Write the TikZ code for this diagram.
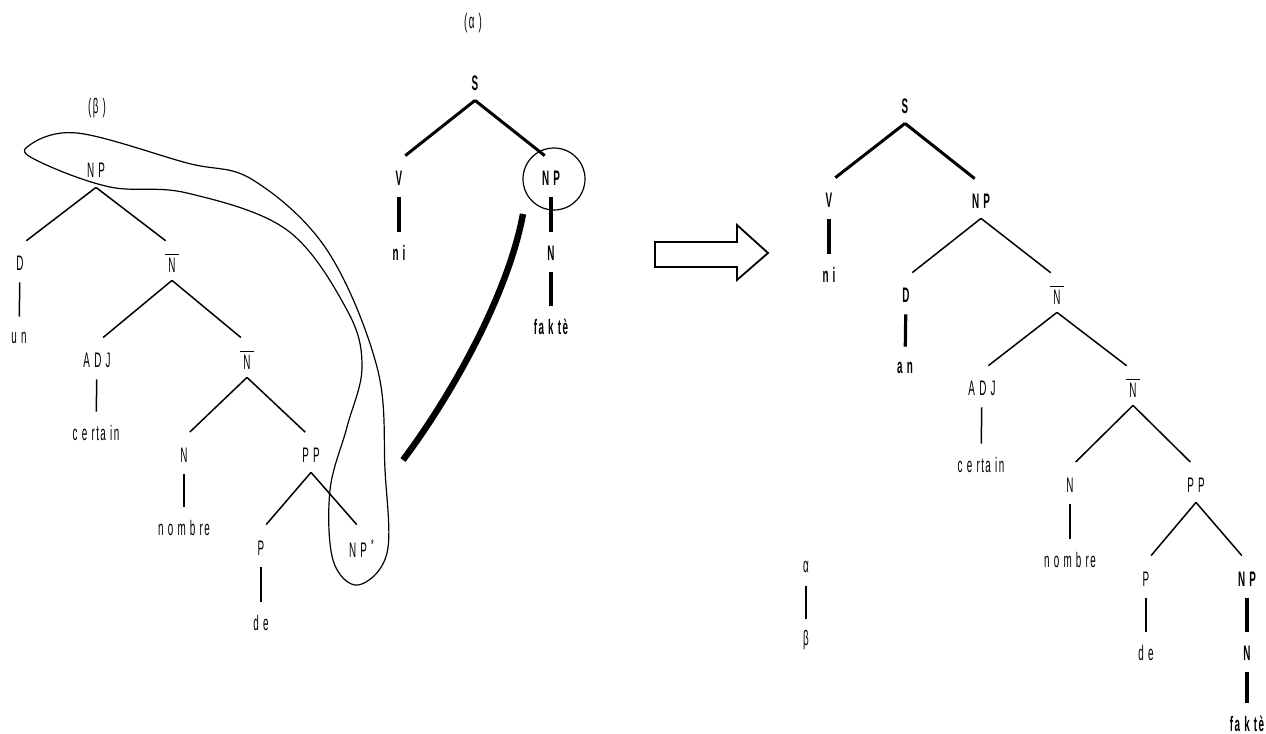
\documentclass[tikz,border=0pt]{standalone}
\usepackage{fontspec}
\usepackage{amsmath}
\setmainfont{Liberation Sans}[FakeStretch=0.47,LetterSpace=7]
\usetikzlibrary{positioning}
\tikzstyle{cat}=
[
	inner sep=0pt
	, minimum height=17pt
	, font=\fontsize{10.5}{12}\selectfont
]
\tikzstyle{bcat}=
[
	cat
	, font=\fontsize{10.5}{12}\selectfont\bfseries
]
\tikzstyle{branch} = [line width=0.75pt, shorten >=4pt]
\tikzstyle{tbranch} = [line width=1.5pt, shorten >=4pt]
\tikzstyle{stem} = [line width=0.75pt, shorten <=1pt, shorten >=2pt]
\tikzstyle{tstem} = [line width=1.6pt, shorten <=1pt, shorten >=2pt]
\newcommand{\nbar}{$\overline{\hbox{\,N\,}}$}

\begin{document}
\begin{tikzpicture}[x=0.5pt,y=-0.5pt]
\useasboundingbox (0,0) rectangle (1266,734);

% tree beta
\node(btitle)[cat] at (97,108) {(β )};
\node(bNP)[cat] at (96,170) {N P};
\node(bD)[cat] at (20,263) {D};
\node(bun)[cat] at (19,338) {u n};
\node(bNb)[cat] at (172,263) {\nbar};
\node(bADJ)[cat] at (97,360) {A D J};
\node(bcert)[cat] at (96,433) {c e rta in};
\node(bNbb)[cat] at (247,360) {\nbar};
\node(bN)[cat] at (184,455) {N};
\node(bnom)[cat] at (184,528) {n o m b re};
\node(bPP)[cat] at (311,455) {P P};
\node(bP)[cat] at (261,548) {P};
\node(bde)[cat] at (261,623) {d e};
\node(bNPs)[cat] at (362,548) {N P \textsuperscript{*}};

\draw[branch](bNP.south)--(bD.north);
\draw[branch](bNP.south)--(bNb.north);
\draw[stem](bD)--(bun);
\draw[branch](bNb.south)--(bADJ.north);
\draw[branch](bNb.south)--(bNbb.north);
\draw[stem](bADJ)--(bcert);
\draw[branch](bNbb.south)--(bN.north);
\draw[branch](bNbb.south)--(bPP.north);
\draw[stem](bN)--(bnom);
\draw[branch](bPP.south)--(bP.north);
\draw[branch](bPP.south)--(bNPs.north);
\draw[stem](bP)--(bde);

% loop round the spine
\draw[line width=0.6pt] plot[smooth cycle, tension=0.6] coordinates {(27,147) (77,133) (187,163) (253,180) (327,250) (377,367) (385,470) (387,553) (358,585) (333,560) (330,490) (347,427) (362,367) (347,310) (287,230) (187,193) (110,187) (40,162)};

% tree alpha
\node(atitle)[cat] at (473,23) {(α )};
\node(aS)[bcat] at (475,83) {S};
\node(aV)[bcat] at (399,178) {V};
\node(ani)[bcat] at (399,253) {n i};
\node(aNP)[bcat] at (551,178) {N P};
\node(aN)[bcat] at (551,253) {N};
\node(afak)[bcat] at (551,327) {fa k tè};

\draw[tbranch](aS.south)--(aV.north);
\draw[tbranch](aS.south)--(aNP.north);
\draw[tstem](aV)--(ani);
\draw[tstem](aNP)--(aN);
\draw[tstem](aN)--(afak);
\draw[line width=0.6pt]([shift={(3,1)}]aNP.center) circle[radius=15.5pt];

\coordinate(ctop) at (523,214);
\coordinate(cbot) at (403,460);
\draw[line width=3.2pt](ctop) .. controls (508,295) and (451,396) .. (cbot);

% arrow
\draw[line width=0.9pt] (655,242) -- (737,242) -- (737,225) -- (768,253) -- (737,280) -- (737,267) -- (655,267) -- cycle;

% derived tree
\node(rS)[bcat] at (905,106) {S};
\node(rV)[bcat] at (829,200) {V};
\node(rni)[bcat] at (829,275) {n i};
\node(rNP)[bcat] at (981,201) {N P};
\node(rD)[bcat] at (906,295) {D};
\node(ran)[bcat] at (905,368) {a n};
\node(rNb)[cat] at (1057,295) {\nbar};
\node(rADJ)[cat] at (982,388) {A D J};
\node(rcert)[cat] at (981,465) {c e rta in};
\node(rNbb)[cat] at (1133,388) {\nbar};
\node(rN)[cat] at (1070,485) {N};
\node(rnom)[cat] at (1070,560) {n o m b re};
\node(rPP)[cat] at (1196,485) {P P};
\node(rP)[cat] at (1146,579) {P};
\node(rde)[cat] at (1146,653) {d e};
\node(rNPb)[bcat] at (1247,579) {N P};
\node(rNN)[bcat] at (1247,653) {N};
\node(rfak)[bcat] at (1247,724) {fa k tè};

\draw[tbranch](rS.south)--(rV.north);
\draw[tbranch](rS.south)--(rNP.north);
\draw[tstem](rV)--(rni);
\draw[branch](rNP.south)--(rD.north);
\draw[branch](rNP.south)--(rNb.north);
\draw[tstem](rD)--(ran);
\draw[branch](rNb.south)--(rADJ.north);
\draw[branch](rNb.south)--(rNbb.north);
\draw[stem](rADJ)--(rcert);
\draw[branch](rNbb.south)--(rN.north);
\draw[branch](rNbb.south)--(rPP.north);
\draw[stem](rN)--(rnom);
\draw[branch](rPP.south)--(rP.north);
\draw[branch](rPP.south)--(rNPb.north);
\draw[stem](rP)--(rde);
\draw[tstem](rNPb)--(rNN);
\draw[tstem](rNN)--(rfak);

\node(alpha)[cat] at (806,567) {α};
\node(beta)[cat] at (806,640) {β};
\draw[stem](alpha)--(beta);

\end{tikzpicture}
\end{document}
